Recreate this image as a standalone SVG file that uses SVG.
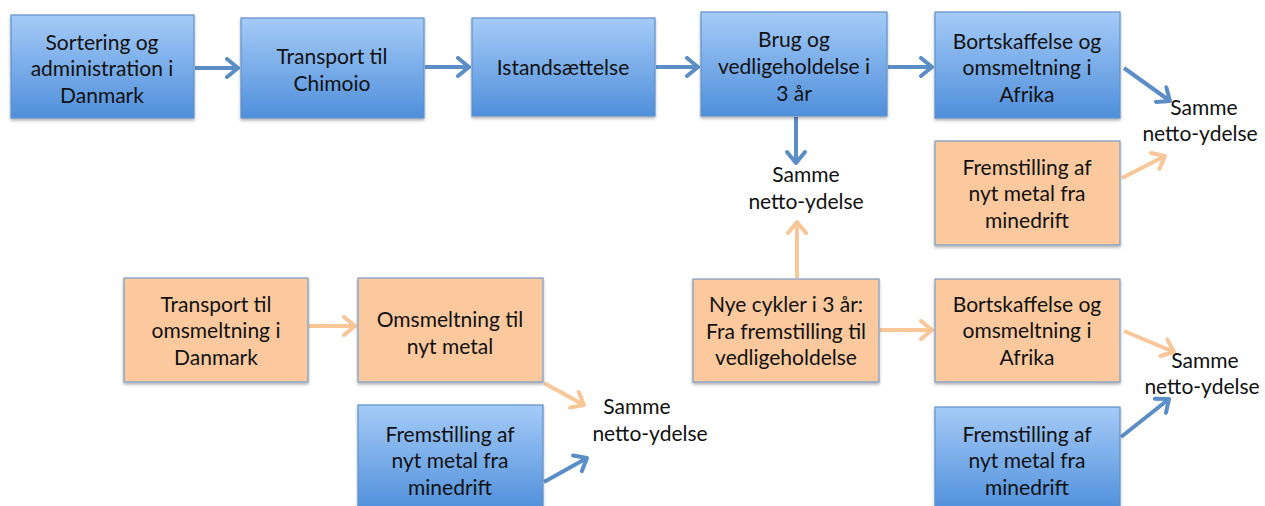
<svg xmlns="http://www.w3.org/2000/svg" width="1265" height="506" viewBox="0 0 1265 506">
<style>
text{font-family:Lato,"Open Sans","Liberation Sans",sans-serif;font-size:21px;fill:#111;text-anchor:middle}
.b{fill:url(#gb);stroke:#5f8fc8;stroke-width:1.2}
.o{fill:#fbc99d;stroke:#7a9cc6;stroke-width:1.2}
.cb{stroke:#5b8dc6;stroke-width:4;fill:none;marker-end:url(#ab)}
.co{stroke:#f8c697;stroke-width:4;fill:none;marker-end:url(#ao)}
</style>
<defs>
<linearGradient id="gb" x1="0" y1="0" x2="0" y2="1">
<stop offset="0" stop-color="#a5cbf7"/>
<stop offset="1" stop-color="#4f8fdb"/>
</linearGradient>
<filter id="sh" x="-10%" y="-10%" width="120%" height="130%">
<feDropShadow dx="0" dy="2" stdDeviation="1.5" flood-color="#000" flood-opacity="0.3"/>
</filter>
<marker id="ab" markerUnits="userSpaceOnUse" viewBox="0 0 22 22" refX="17" refY="11" markerWidth="22" markerHeight="22" orient="auto">
<polyline points="6,2 17,11 6,20" fill="none" stroke="#5b8dc6" stroke-width="4" stroke-linecap="round" stroke-linejoin="round"/>
</marker>
<marker id="ao" markerUnits="userSpaceOnUse" viewBox="0 0 22 22" refX="17" refY="11" markerWidth="22" markerHeight="22" orient="auto">
<polyline points="6,2 17,11 6,20" fill="none" stroke="#f8c697" stroke-width="4" stroke-linecap="round" stroke-linejoin="round"/>
</marker>
</defs>
<g id="connectors">
<line class="cb" x1="195" y1="68" x2="238" y2="68"/>
<line class="cb" x1="425" y1="67" x2="469" y2="67"/>
<line class="cb" x1="656" y1="67" x2="698" y2="67"/>
<line class="cb" x1="888" y1="67" x2="932" y2="67"/>
<line class="cb" x1="796" y1="117" x2="796" y2="163"/>
<line class="cb" x1="1124" y1="68" x2="1170" y2="101"/>
<line class="co" x1="1122" y1="178" x2="1165" y2="156"/>
<line class="co" x1="797" y1="278" x2="797" y2="222"/>
<line class="co" x1="880" y1="330" x2="932" y2="330"/>
<line class="co" x1="1124" y1="331" x2="1174" y2="352"/>
<line class="cb" x1="1121" y1="437" x2="1169" y2="399"/>
<line class="co" x1="309" y1="326" x2="355" y2="326"/>
<line class="co" x1="544" y1="383" x2="584" y2="405"/>
<line class="cb" x1="544" y1="482" x2="587" y2="458"/>
</g>
<g id="n1"><rect class="b" x="11" y="15" width="183" height="103" filter="url(#sh)"/><text x="102" y="50">Sortering og</text><text x="102" y="76">administration i</text><text x="102" y="103">Danmark</text></g>
<g id="n2"><rect class="b" x="241" y="18" width="183" height="100" filter="url(#sh)"/><text x="332" y="64">Transport til</text><text x="332" y="91">Chimoio</text></g>
<g id="n3"><rect class="b" x="472" y="18" width="183" height="98" filter="url(#sh)"/><text x="563" y="75">Istandsættelse</text></g>
<g id="n4"><rect class="b" x="701" y="12" width="186" height="104" filter="url(#sh)"/><text x="794" y="47">Brug og</text><text x="794" y="74">vedligeholdelse i</text><text x="794" y="101">3 år</text></g>
<g id="n5"><rect class="b" x="935" y="12" width="185" height="106" filter="url(#sh)"/><text x="1027" y="49">Bortskaffelse og</text><text x="1027" y="75">omsmeltning i</text><text x="1027" y="102">Afrika</text></g>
<g id="s1"><text x="806" y="182">Samme</text><text x="806" y="209">netto-ydelse</text></g>
<g id="s2"><text x="1204" y="115">Samme</text><text x="1200" y="141">netto-ydelse</text></g>
<g id="n6"><rect class="o" x="935" y="141" width="185" height="104" filter="url(#sh)"/><text x="1027" y="175">Fremstilling af</text><text x="1027" y="201">nyt metal fra</text><text x="1027" y="228">minedrift</text></g>
<g id="n7"><rect class="o" x="693" y="279" width="186" height="103" filter="url(#sh)"/><text x="786" y="312">Nye cykler i 3 år:</text><text x="786" y="339">Fra fremstilling til</text><text x="786" y="365">vedligeholdelse</text></g>
<g id="n8"><rect class="o" x="935" y="279" width="185" height="103" filter="url(#sh)"/><text x="1027" y="312">Bortskaffelse og</text><text x="1027" y="338">omsmeltning i</text><text x="1027" y="365">Afrika</text></g>
<g id="s3"><text x="1205" y="368">Samme</text><text x="1202" y="394">netto-ydelse</text></g>
<g id="n9"><rect class="b" x="935" y="407" width="185" height="104" filter="url(#sh)"/><text x="1027" y="442">Fremstilling af</text><text x="1027" y="468">nyt metal fra</text><text x="1027" y="495">minedrift</text></g>
<g id="n10"><rect class="o" x="124" y="278" width="184" height="104" filter="url(#sh)"/><text x="216" y="312">Transport til</text><text x="216" y="338">omsmeltning i</text><text x="216" y="365">Danmark</text></g>
<g id="n11"><rect class="o" x="358" y="278" width="185" height="104" filter="url(#sh)"/><text x="450" y="327">Omsmeltning til</text><text x="450" y="354">nyt metal</text></g>
<g id="s4"><text x="637" y="414">Samme</text><text x="650" y="441">netto-ydelse</text></g>
<g id="n12"><rect class="b" x="358" y="405" width="185" height="106" filter="url(#sh)"/><text x="450" y="442">Fremstilling af</text><text x="450" y="468">nyt metal fra</text><text x="450" y="495">minedrift</text></g>
</svg>
